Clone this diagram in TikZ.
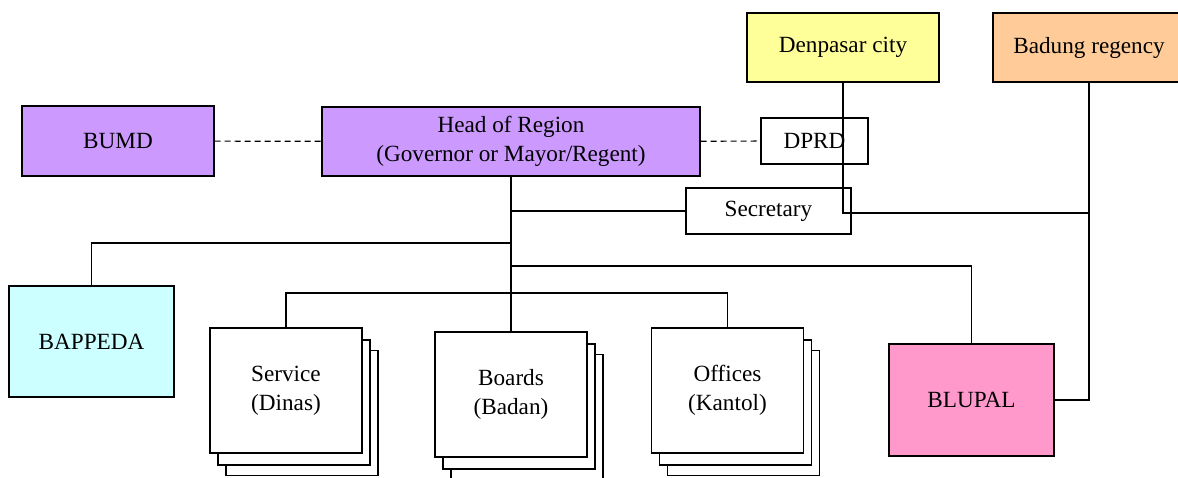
\documentclass[tikz,border=0pt]{standalone}
\usepackage{fontspec}
\setmainfont{Liberation Serif}
\usetikzlibrary{shadows}
\definecolor{lilac}{RGB}{204,153,255}
\definecolor{lemon}{RGB}{255,255,153}
\definecolor{peach}{RGB}{255,204,153}
\definecolor{paleblue}{RGB}{204,255,255}
\definecolor{rose}{RGB}{255,153,204}
\tikzset{
  unit/.style={draw,inner sep=0pt,align=center,line width=0.9pt,
    font=\fontsize{17.4}{21.5}\selectfont},
  stacked/.style={unit,fill=white,minimum width=114pt,minimum height=93.75pt,
    copy shadow={shadow xshift=12pt,shadow yshift=-17pt,line width=0.9pt},
    copy shadow={shadow xshift=6pt,shadow yshift=-9pt,line width=0.9pt}},
  link/.style={line width=0.9pt}
}

\begin{document}
\begin{tikzpicture}[x=0.75pt,y=-0.75pt]
    \useasboundingbox (0,0) rectangle (1178,478);
    % top row
    \node[unit,fill=lemon,minimum width=144pt,minimum height=51.75pt] (denpasar) at (843,47.5) {Denpasar city};
    \node[unit,fill=peach,minimum width=144pt,minimum height=51.75pt] (badung) at (1089,47.5) {Badung regency};
    \node[unit,fill=lilac,minimum width=144pt,minimum height=52.5pt] (bumd) at (118,141) {BUMD};
    \node[unit,fill=lilac,minimum width=283.5pt,minimum height=51.75pt] (head) at (511,141.5) {Head of Region\\(Governor or Mayor/Regent)};
    \node[unit,fill=white,minimum width=80.25pt,minimum height=34.5pt] (dprd) at (814.5,141) {DPRD};
    \node[unit,fill=white,minimum width=123.75pt,minimum height=34.5pt] (secretary) at (768.5,211) {Secretary};
    % lower row
    \node[unit,fill=paleblue,minimum width=123.75pt,minimum height=83.25pt] (bappeda) at (91.5,341.5) {BAPPEDA};
    \node[stacked] (service) at (286,390.5) {Service\\(Dinas)};
    \node[stacked] (boards) at (511,394.5) {Boards\\(Badan)};
    \node[stacked] (offices) at (727.5,390.5) {Offices\\(Kantol)};
    \node[unit,fill=rose,minimum width=123.75pt,minimum height=84pt] (blupal) at (971.5,400) {BLUPAL};

    \draw[link,dash pattern=on 4.5pt off 3pt] (bumd) -- (head);
    \draw[link,dash pattern=on 4.5pt off 3pt] (head) -- (dprd);
    \draw[link] (head) -- (boards);
    \coordinate (sec) at (511,211);
    \coordinate (bus1) at (511,243);
    \coordinate (bus2) at (511,266);
    \coordinate (bus3) at (511,293);
    \coordinate (join) at (1089,213);
    \draw[link] (sec) -- (secretary);
    \draw[link] (bus1) -| (bappeda);
    \draw[link] (bus2) -| (blupal);
    \draw[link] (service) |- (bus3) -| (offices);
    \draw[link] (denpasar) |- (join);
    \draw[link] (badung) |- (blupal);
\end{tikzpicture}
\end{document}
